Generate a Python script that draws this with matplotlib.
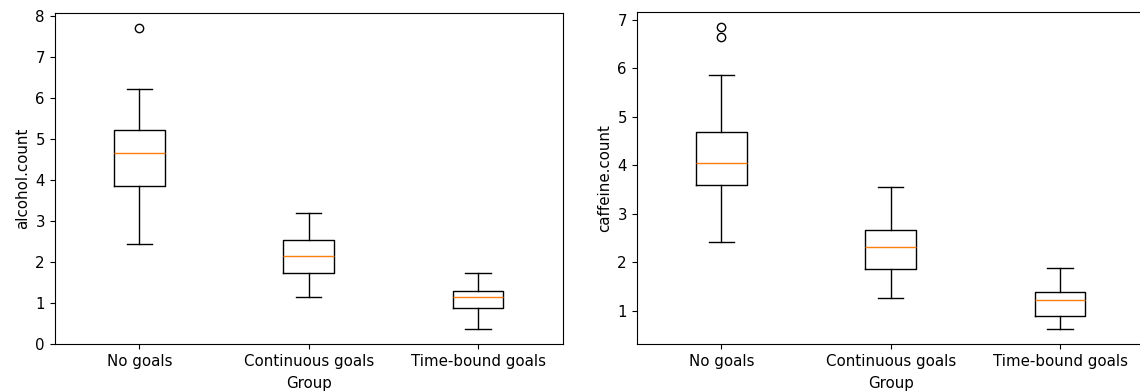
import matplotlib
matplotlib.use("Agg")
import matplotlib.pyplot as plt

groups = ["No goals", "Continuous goals", "Time-bound goals"]

# alcohol.count box stats
alc_low = [2.43, 1.15, 0.36]
alc_q1 = [3.85, 1.73, 0.88]
alc_med = [4.66, 2.14, 1.14]
alc_q3 = [5.21, 2.52, 1.29]
alc_high = [6.21, 3.18, 1.73]
alc_fliers = [[7.69], [], []]

# caffeine.count box stats
caf_low = [2.41, 1.25, 0.62]
caf_q1 = [3.59, 1.85, 0.88]
caf_med = [4.05, 2.32, 1.22]
caf_q3 = [4.68, 2.67, 1.38]
caf_high = [5.87, 3.54, 1.88]
caf_fliers = [[6.64, 6.85], [], []]

plt.rcParams['font.size'] = 10.8


def make_stats(low, q1, med, q3, high, fliers):
    stats = []
    for i in range(len(groups)):
        stats.append({
            "label": groups[i],
            "whislo": low[i],
            "q1": q1[i],
            "med": med[i],
            "q3": q3[i],
            "whishi": high[i],
            "fliers": fliers[i],
        })
    return stats


fig = plt.figure(figsize=(11.4, 3.91), dpi=100)
ax1 = fig.add_axes([0.048, 0.1202, 0.4456, 0.8458])
ax2 = fig.add_axes([0.5585, 0.1202, 0.4456, 0.849])

ax1.bxp(make_stats(alc_low, alc_q1, alc_med, alc_q3, alc_high, alc_fliers))
ax1.set_ylabel("alcohol.count")
ax1.set_xlabel("Group", labelpad=5)

ax2.bxp(make_stats(caf_low, caf_q1, caf_med, caf_q3, caf_high, caf_fliers))
ax2.set_ylabel("caffeine.count")
ax2.set_xlabel("Group", labelpad=5)

fig.savefig("out.png", dpi=100)
